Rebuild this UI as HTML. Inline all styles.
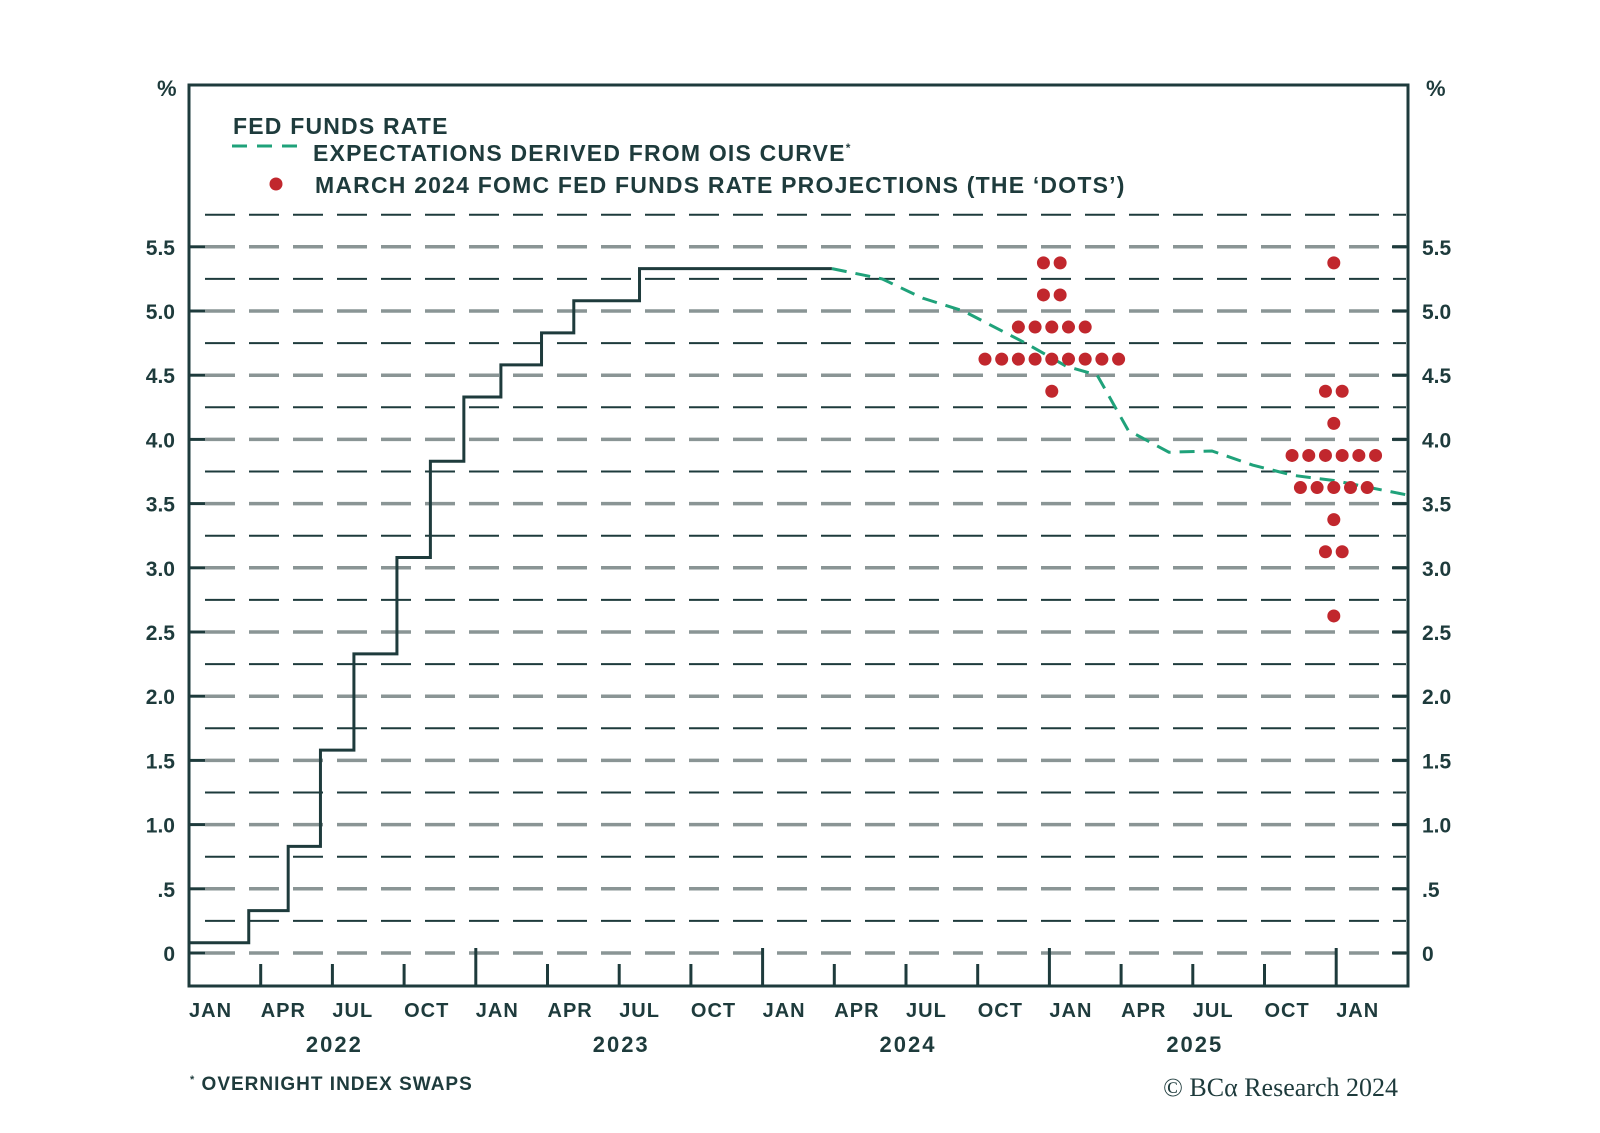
<!DOCTYPE html>
<html><head><meta charset="utf-8"><style>
body{margin:0;background:#fff}
svg{display:block;font-family:"Liberation Sans",sans-serif;font-weight:bold;fill:#1e3b3c}
</style></head><body>
<svg id="chart" width="1600" height="1133" viewBox="0 0 1600 1133">
<g id="grid"></g>
<g id="series"></g>
<rect x="189" y="85" width="1219" height="901" fill="none" stroke="#1e3b3c" stroke-width="3"/>
<g id="axes"></g>
<text x="157" y="96" font-size="22">%</text>
<text x="1426" y="96" font-size="22">%</text>
<g letter-spacing="1.2">
<text x="233" y="134" font-size="23">FED FUNDS RATE</text>
<line x1="232" y1="146" x2="302" y2="146" stroke="#1fa27a" stroke-width="3" stroke-dasharray="15 10"/>
<text x="313" y="161" font-size="23">EXPECTATIONS DERIVED FROM OIS CURVE<tspan font-size="12" dy="-9">*</tspan></text>
<circle cx="276" cy="184" r="6.5" fill="#c1272d"/>
<text x="315" y="193" font-size="23">MARCH 2024 FOMC FED FUNDS RATE PROJECTIONS (THE ‘DOTS’)</text>
</g>
<text x="190" y="1090" font-size="19" letter-spacing="1"><tspan font-size="11" dy="-7">*</tspan><tspan dy="7"> OVERNIGHT INDEX SWAPS</tspan></text>
<text x="1398" y="1096" font-size="26" text-anchor="end" font-family="Liberation Serif" font-weight="normal">© BCα Research 2024</text>
</svg>
<script>
const X0=189,X1=1408,MW=23.9,Y0=953,YU=128.4;
const fx=m=>X0+m*MW, fy=v=>Y0-v*YU;
const stepMonths=[0,2.5,4.15,5.5,6.9,8.7,10.1,11.5,13.05,14.75,16.1,18.85,26.9];
const stepValues=[0.08,0.33,0.83,1.58,2.33,3.08,3.83,4.33,4.58,4.83,5.08,5.33,5.33];
const oisMonths=[26.9,29.0,30.7,32.4,35.0,36.7,38.0,39.3,41.0,42.8,44.5,46.2,47.9,50.9];
const oisValues=[5.33,5.25,5.10,5.0,4.75,4.57,4.5,4.07,3.90,3.91,3.80,3.72,3.68,3.57];
const dots2024Levels=[5.375,5.125,4.875,4.625,4.375];
const dots2024Counts=[2,2,5,9,1];
const dots2025Levels=[5.375,4.375,4.125,3.875,3.625,3.375,3.125,2.625];
const dots2025Counts=[1,2,1,6,5,1,2,1];
const dotColumnMonths=[36.1,47.9];
const yTicks=["0",".5","1.0","1.5","2.0","2.5","3.0","3.5","4.0","4.5","5.0","5.5"];
const qLabels=["JAN","APR","JUL","OCT"];
const years=["2022","2023","2024","2025"];
const NS="http://www.w3.org/2000/svg";
function mk(t,a,p){const e=document.createElementNS(NS,t);for(const k in a)e.setAttribute(k,a[k]);p.appendChild(e);return e;}
const grid=document.getElementById('grid'),ser=document.getElementById('series'),ax=document.getElementById('axes');
for(let i=0;i<=23;i++){const v=i*0.25,y=fy(v);
 const l=mk('line',{x1:X0+16,x2:X1-2,y1:y,y2:y,stroke:i%2?'#1e3b3c':'#8a9595','stroke-width':i%2?2:3.5,'stroke-dasharray':'30 14'},grid);
 
 }
yTicks.forEach((t,i)=>{const y=fy(i*0.5);
 const a=mk('line',{x1:X0,x2:X0+16,y1:y,y2:y,stroke:'#1e3b3c','stroke-width':3},ax);
 
 const b=mk('line',{x1:X1-16,x2:X1,y1:y,y2:y,stroke:'#1e3b3c','stroke-width':3},ax);
 
 const l=mk('text',{x:175,y:y+8,'font-size':21,'text-anchor':'end'},ax);l.textContent=t;
 
 const r=mk('text',{x:1422,y:y+8,'font-size':21},ax);r.textContent=t;
 });
for(let q=0;q<17;q++){const x=fx(q*3),major=q%4==0;
 if(q>0){const t=mk('line',{x1:x,x2:x,y1:986,y2:major?948:964,stroke:'#1e3b3c','stroke-width':3},ax);
 }
 const l=mk('text',{x:x,y:1017,'font-size':20,'letter-spacing':1},ax);l.textContent=qLabels[q%4];
 }
years.forEach((y,i)=>{const t=mk('text',{x:fx(i*12+6)+2,y:1052,'font-size':22,'letter-spacing':2,'text-anchor':'middle'},ax);t.textContent=y;
 });
let d='';stepMonths.forEach((m,i)=>{if(i==0)d+=`M${fx(m)},${fy(stepValues[0])}`;else d+=`H${fx(m)}V${fy(stepValues[i])}`;});
const fl=mk('path',{d:d,fill:'none',stroke:'#1e3b3c','stroke-width':3},ser);

const oi=mk('polyline',{points:oisMonths.map((m,i)=>fx(m)+','+fy(oisValues[i])).join(' '),fill:'none',stroke:'#1fa27a','stroke-width':3,'stroke-dasharray':'15 9'},ser);

[[dots2024Levels,dots2024Counts],[dots2025Levels,dots2025Counts]].forEach(([lv,ct],c)=>{
 const cx=fx(dotColumnMonths[c]);
 lv.forEach((v,i)=>{for(let k=0;k<ct[i];k++){
  const dot=mk('circle',{cx:cx+(k-(ct[i]-1)/2)*16.7,cy:fy(v),r:6.5,fill:'#c1272d'},ser);
  
  }});});
</script>
</body></html>
